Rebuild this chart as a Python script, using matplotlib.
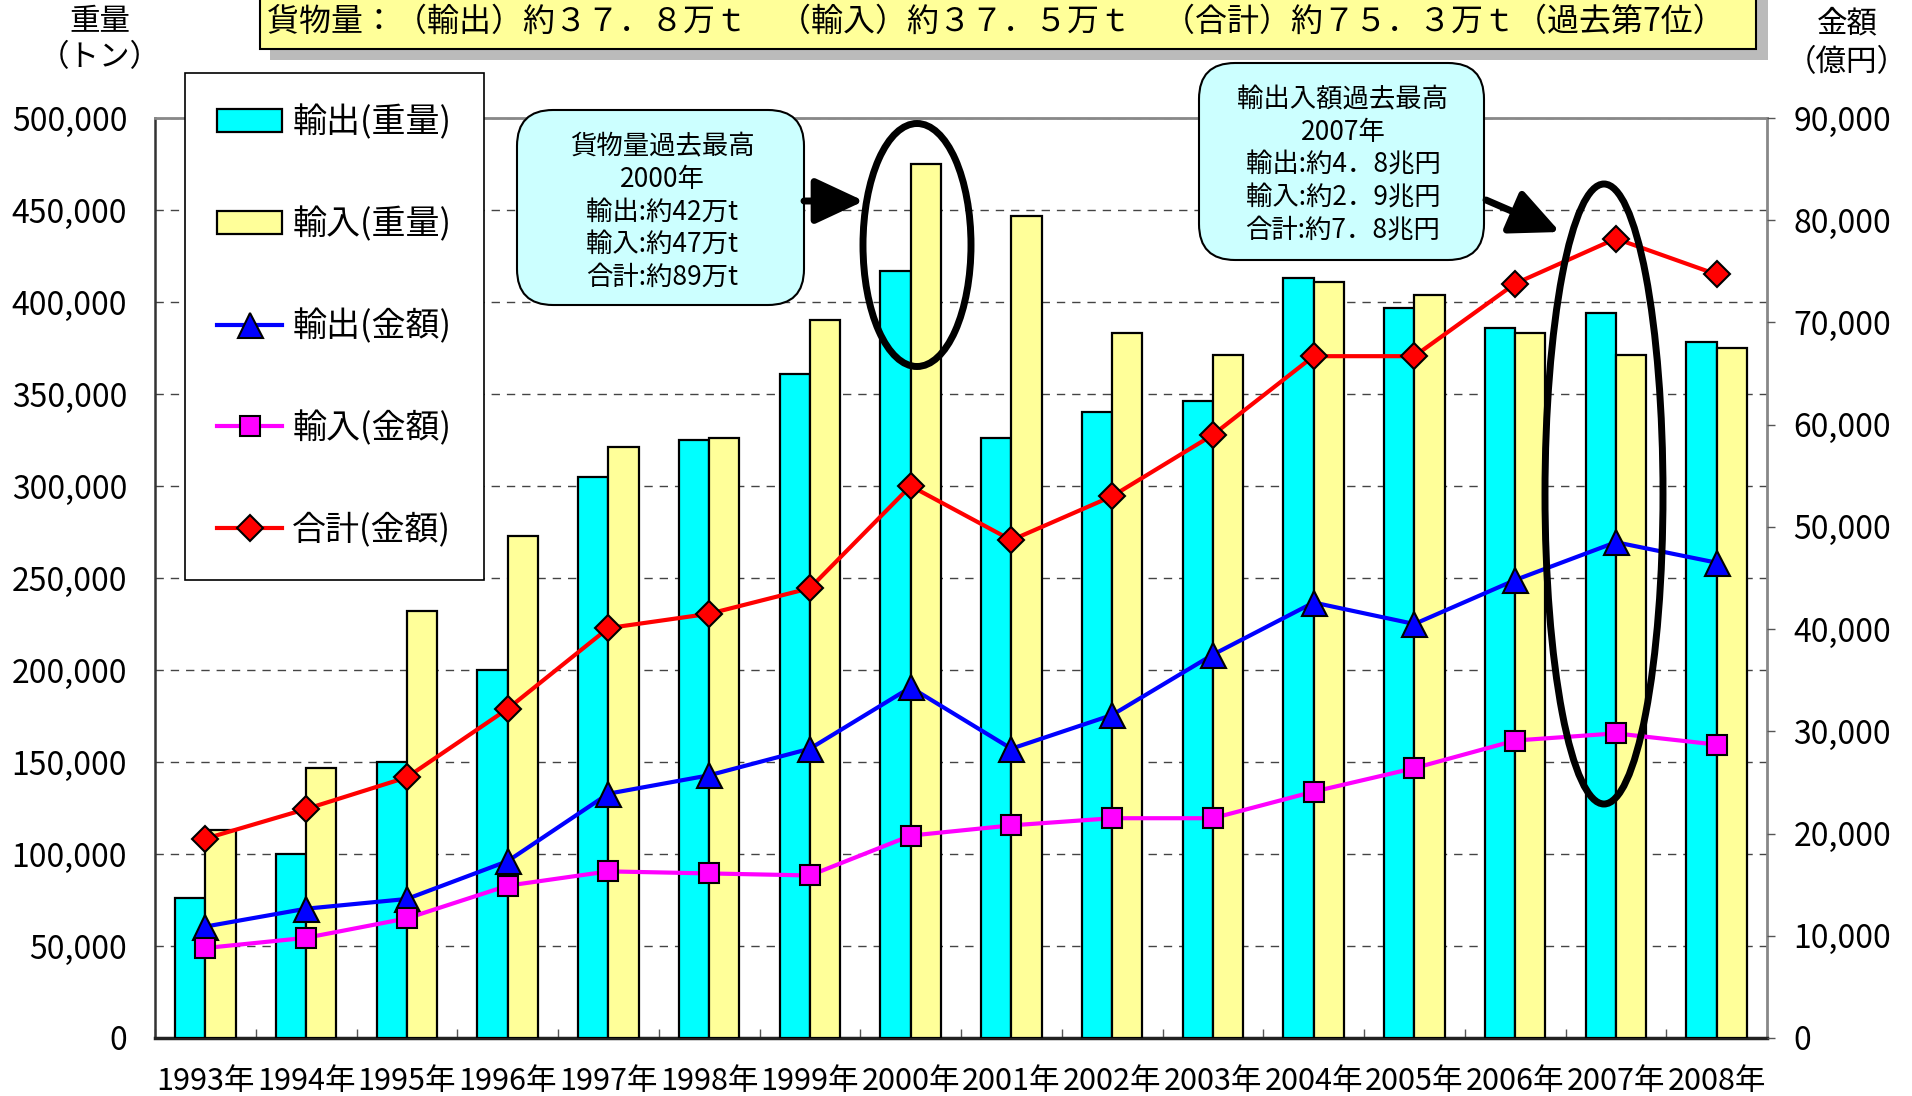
import matplotlib
matplotlib.use('Agg')
import matplotlib.pyplot as plt
import numpy as np
from matplotlib.patches import FancyBboxPatch, Ellipse, Rectangle
from matplotlib.transforms import IdentityTransform
from matplotlib.ticker import FuncFormatter, MultipleLocator

plt.rcParams['font.family'] = ['Noto Sans CJK JP', 'DejaVu Sans']

# ---------------- data ----------------
years = ['1993年', '1994年', '1995年', '1996年', '1997年', '1998年', '1999年', '2000年',
         '2001年', '2002年', '2003年', '2004年', '2005年', '2006年', '2007年', '2008年']
export_ton = [76000, 100000, 150000, 200000, 305000, 325000, 361000, 417000,
              326000, 340000, 346000, 413000, 397000, 386000, 394000, 378000]
import_ton = [113000, 147000, 232000, 273000, 321000, 326000, 390000, 475000,
              447000, 383000, 371000, 411000, 404000, 383000, 371000, 375000]
export_val = [10900, 12650, 13600, 17300, 23900, 25700, 28300, 34300,
              28300, 31600, 37500, 42600, 40500, 44800, 48500, 46500]
import_val = [8800, 9800, 11700, 14900, 16300, 16100, 15900, 19800,
              20800, 21500, 21500, 24100, 26400, 29100, 29800, 28700]
total_val = [19500, 22400, 25500, 32200, 40100, 41500, 44000, 54000,
             48700, 53000, 59000, 66700, 66700, 73800, 78200, 74700]

legend_labels = ['輸出(重量)', '輸入(重量)', '輸出(金額)', '輸入(金額)', '合計(金額)']
banner_text = '貨物量：（輸出）約３７．８万ｔ　（輸入）約３７．５万ｔ　（合計）約７５．３万ｔ（過去第7位）'
note1_lines = ['貨物量過去最高', '2000年', '輸出:約42万t', '輸入:約47万t', '合計:約89万t']
note2_lines = ['輸出入額過去最高', '2007年', '輸出:約4．8兆円', '輸入:約2．9兆円', '合計:約7．8兆円']

# ---------------- figure ----------------
W, H = 1912, 1096
fig = plt.figure(figsize=(W / 100, H / 100), dpi=100)
L, R, T, B = 155, 1767, 118, 1038
ax = fig.add_axes([L / W, 1 - B / H, (R - L) / W, (B - T) / H])

x = np.arange(len(years))
bw = 0.30
ax.bar(x - bw / 2, export_ton, width=bw, color='#00FFFF', edgecolor='black',
       linewidth=1.6, label=legend_labels[0], zorder=3)
ax.bar(x + bw / 2, import_ton, width=bw, color='#FFFF99', edgecolor='black',
       linewidth=1.6, label=legend_labels[1], zorder=3)

ax.set_xlim(-0.5, len(years) - 0.5)
ax.set_ylim(0, 500000)
ax.yaxis.set_major_locator(MultipleLocator(50000))
ax.yaxis.set_major_formatter(FuncFormatter(lambda v, p: f'{int(v):,}'))
ax.set_axisbelow(True)
ax.grid(axis='y', linestyle=(0, (6, 5)), color='#444444', linewidth=1.0)
ax.set_xticks(x)
ax.set_xticklabels(years)
ax.set_xticks(np.arange(-0.5, len(years)), minor=True)
ax.tick_params(axis='x', which='major', length=0, pad=20, labelsize=22)
ax.tick_params(axis='x', which='minor', direction='in', length=6.5, width=1, color='#555555')
ax.tick_params(axis='y', length=0, pad=20, labelsize=23)

for s in ['top', 'right']:
    ax.spines[s].set_color('#888888')
    ax.spines[s].set_linewidth(2)
ax.spines['left'].set_color('#333333')
ax.spines['left'].set_linewidth(1.8)
ax.spines['bottom'].set_color('#222222')
ax.spines['bottom'].set_linewidth(2.5)

ax2 = ax.twinx()
ax2.set_ylim(0, 90000)
ax2.yaxis.set_major_locator(MultipleLocator(10000))
ax2.yaxis.set_major_formatter(FuncFormatter(lambda v, p: f'{int(v):,}'))
ax2.tick_params(axis='y', direction='out', length=6, width=1, color='#555555', pad=13, labelsize=23)
for s in ax2.spines.values():
    s.set_visible(False)

ax2.plot(x, export_val, color='#0000FF', lw=3, marker='^', markersize=18,
         markerfacecolor='#0000FF', markeredgecolor='black', markeredgewidth=1.5,
         label=legend_labels[2], zorder=4)
ax2.plot(x, import_val, color='#FF00FF', lw=3, marker='s', markersize=14,
         markerfacecolor='#FF00FF', markeredgecolor='black', markeredgewidth=1.5,
         label=legend_labels[3], zorder=4)
ax2.plot(x, total_val, color='#FF0000', lw=3, marker='D', markersize=13,
         markerfacecolor='#FF0000', markeredgecolor='black', markeredgewidth=1.5,
         label=legend_labels[4], zorder=4)

h1, l1 = ax.get_legend_handles_labels()
h2, l2 = ax2.get_legend_handles_labels()
leg = ax2.legend(h1 + h2, l1 + l2, loc='upper left',
                 bbox_to_anchor=(185 / W, 1 - 73 / H), bbox_transform=fig.transFigure,
                 borderaxespad=0, fontsize=24.5, frameon=True, fancybox=False,
                 framealpha=1, edgecolor='black', borderpad=0.95, labelspacing=1.95,
                 handlelength=1.9, handleheight=0.65, handletextpad=0.3)
leg.get_frame().set_linewidth(1.2)
leg.set_zorder(20)

# ---------------- decorations (pixel coordinates) ----------------
ID = IdentityTransform()

def Y(y):
    return H - y

# banner
fig.add_artist(Rectangle((270, Y(60)), 1498, 70, transform=ID, facecolor='#BBBBBB',
                         edgecolor='none', zorder=5))
fig.add_artist(Rectangle((260, Y(49)), 1496, 60, transform=ID, facecolor='#FFFF99',
                         edgecolor='black', linewidth=1.5, zorder=6))
fig.text(996 / W, 1 - 22 / H, banner_text, ha='center', va='center', fontsize=23, zorder=7)

# axis titles
fig.text(100 / W, 1 - 22 / H, '重量', ha='center', va='center', fontsize=22)
fig.text(100 / W, 1 - 58 / H, '（トン）', ha='center', va='center', fontsize=22)
fig.text(1847 / W, 1 - 24 / H, '金額', ha='center', va='center', fontsize=22)
fig.text(1847 / W, 1 - 63 / H, '（億円）', ha='center', va='center', fontsize=22)

# note boxes
fig.add_artist(FancyBboxPatch((517, Y(305)), 287, 195, transform=ID,
                              boxstyle='round,pad=0,rounding_size=36',
                              facecolor='#CCFFFF', edgecolor='black', linewidth=1.5, zorder=8))
fig.text(662 / W, 1 - 212 / H, '\n'.join(note1_lines), ha='center', va='center',
         multialignment='center', fontsize=19, linespacing=1.27, zorder=9)
fig.add_artist(FancyBboxPatch((1199, Y(260)), 285, 197, transform=ID,
                              boxstyle='round,pad=0,rounding_size=36',
                              facecolor='#CCFFFF', edgecolor='black', linewidth=1.5, zorder=8))
fig.text(1343 / W, 1 - 165 / H, '\n'.join(note2_lines), ha='center', va='center',
         multialignment='center', fontsize=19, linespacing=1.27, zorder=9)

# arrows
for (x0, y0, x1, y1) in [(804, 201, 864, 201), (1486, 200, 1560, 232)]:
    fig.add_artist(matplotlib.patches.FancyArrowPatch(
        (x0, Y(y0)), (x1, Y(y1)), transform=ID,
        arrowstyle='-|>,head_length=1.5,head_width=0.7', mutation_scale=20,
        color='black', linewidth=5, shrinkA=0, shrinkB=0, zorder=10))

# ellipses
fig.add_artist(Ellipse((917, Y(245)), 108, 243, transform=ID, fill=False,
                       edgecolor='black', linewidth=5, zorder=10))
fig.add_artist(Ellipse((1604, Y(494)), 118, 620, transform=ID, fill=False,
                       edgecolor='black', linewidth=5, zorder=10))

fig.savefig('out.png', dpi=100)
